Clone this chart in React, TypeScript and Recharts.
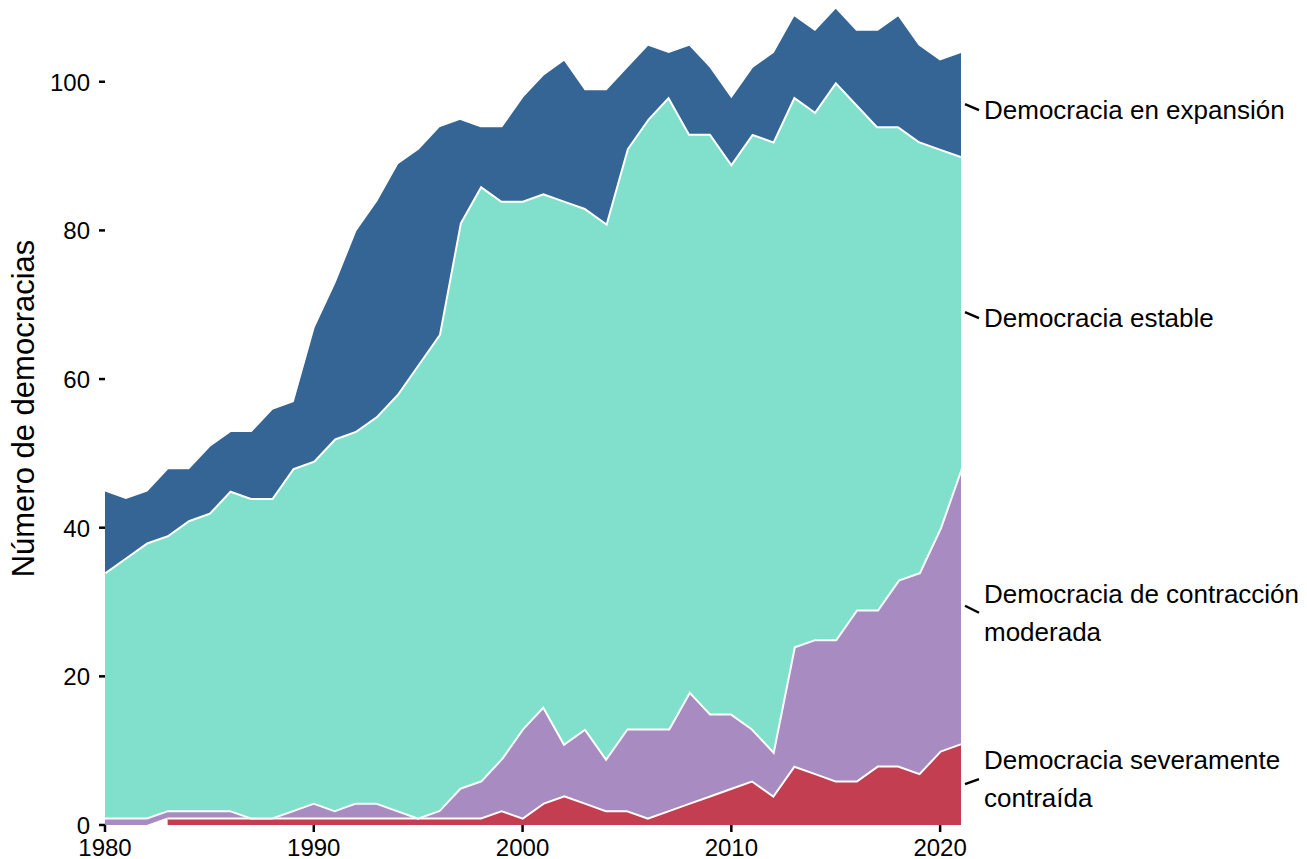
import { AreaChart, Area, XAxis, YAxis, ReferenceDot, Label } from "recharts";

// years 1980-2021
const YEARS = [
  1980, 1981, 1982, 1983, 1984, 1985, 1986, 1987, 1988, 1989,
  1990, 1991, 1992, 1993, 1994, 1995, 1996, 1997, 1998, 1999,
  2000, 2001, 2002, 2003, 2004, 2005, 2006, 2007, 2008, 2009,
  2010, 2011, 2012, 2013, 2014, 2015, 2016, 2017, 2018, 2019,
  2020, 2021,
];

const SEVERE = [
  null, null, null, 1, 1, 1, 1, 1, 1, 1,
  1, 1, 1, 1, 1, 1, 1, 1, 1, 2,
  1, 3, 4, 3, 2, 2, 1, 2, 3, 4,
  5, 6, 4, 8, 7, 6, 6, 8, 8, 7,
  10, 11,
];
const MODERATE = [
  1, 1, 1, 1, 1, 1, 1, 0, 0, 1,
  2, 1, 2, 2, 1, 0, 1, 4, 5, 7,
  12, 13, 7, 10, 7, 11, 12, 11, 15, 11,
  10, 7, 6, 16, 18, 19, 23, 21, 25, 27,
  30, 37,
];
const STABLE = [
  33, 35, 37, 37, 39, 40, 43, 43, 43, 46,
  46, 50, 50, 52, 56, 61, 64, 76, 80, 75,
  71, 69, 73, 70, 72, 78, 82, 85, 75, 78,
  74, 80, 82, 74, 71, 75, 68, 65, 61, 58,
  51, 42,
];
const EXPANDING = [
  11, 8, 7, 9, 7, 9, 8, 9, 12, 9,
  18, 21, 27, 29, 31, 29, 28, 14, 8, 10,
  14, 16, 19, 16, 18, 11, 10, 6, 12, 9,
  9, 9, 12, 11, 11, 10, 10, 13, 15, 13,
  12, 14,
];

const X_TICKS = [1980, 1990, 2000, 2010, 2020];
const Y_TICKS = [0, 20, 40, 60, 80, 100];

const SERIES = [
  { key: "severe", values: SEVERE, color: "#c43e52", line: 4, label: ["Democracia severamente", "contraída"], dy: -5 },
  { key: "moderate", values: MODERATE, color: "#a78bc1", line: 4, label: ["Democracia de contracción", "moderada"], dy: 7 },
  { key: "stable", values: STABLE, color: "#80e0cb", line: 4, label: ["Democracia estable"], dy: 6 },
  { key: "expanding", values: EXPANDING, color: "#346594", line: 2, label: ["Democracia en expansión"], dy: 6 },
];

const data = YEARS.map((year, i) => {
  const row: Record<string, number | null> = { year };
  SERIES.forEach((s) => { row[s.key] = s.values[i]; });
  return row;
});

// mid point of each band in the last year, for the end labels
const last = YEARS.length - 1;
let acc = 0;
const ends = SERIES.map((s) => {
  const v = s.values[last] ?? 0;
  const mid = acc + v / 2;
  acc += v;
  return { ...s, mid };
});

const FONT = "'Liberation Sans', Arial, sans-serif";

function XTick({ x, y, payload }: any) {
  return (
    <g>
      <line x1={x} x2={x} y1={y} y2={y + 7} stroke="#000" strokeWidth={2.5} />
      <text x={x} y={y + 31} textAnchor="middle" fontSize={24} fontFamily={FONT} fill="#000">{payload.value}</text>
    </g>
  );
}

function YTick({ x, y, payload }: any) {
  return (
    <g>
      <line x1={x - 6} x2={x} y1={y} y2={y} stroke="#000" strokeWidth={2.5} />
      <text x={x - 15} y={y + 9} textAnchor="end" fontSize={24} fontFamily={FONT} fill="#000">{payload.value}</text>
    </g>
  );
}

function EndLabel({ cx, cy, lines, dy }: any) {
  const ty = cy + dy;
  const lh = 38;
  const top = ty - ((lines.length - 1) * lh) / 2;
  return (
    <g>
      <line x1={cx + 4} y1={cy} x2={cx + 18} y2={ty} stroke="#000" strokeWidth={2.5} />
      {lines.map((t: string, i: number) => (
        <text key={t} x={cx + 23} y={top + i * lh} dy={9} fontSize={26} fontFamily={FONT} fill="#000">{t}</text>
      ))}
    </g>
  );
}

export default function App() {
  return (
    <div style={{ position: "absolute", left: 0, top: 0, background: "#fff" }}>
      <AreaChart width={1307} height={859} data={data} margin={{ top: 0, right: 346, bottom: 0, left: 0 }}>
        <XAxis
          dataKey="year" type="number" domain={[1980, 2021]} ticks={X_TICKS}
          axisLine={false} tickLine={false} tickSize={0} tickMargin={0} height={34}
          tick={<XTick />} interval={0} allowDataOverflow
        />
        <YAxis
          type="number" domain={[0, 111]} ticks={Y_TICKS}
          axisLine={false} tickLine={false} tickSize={0} tickMargin={0} width={105}
          tick={<YTick />} interval={0} allowDataOverflow
        >
          <Label
            content={({ viewBox }: any) => {
              const cy = viewBox.y + viewBox.height / 2 - 4;
              const cx = viewBox.x + 23;
              return (
                <text x={cx} y={cy} transform={`rotate(-90, ${cx}, ${cy})`} textAnchor="middle"
                  dominantBaseline="central" fontSize={31} fontFamily={FONT} fill="#000">
                  Número de democracias
                </text>
              );
            }}
          />
        </YAxis>
        {SERIES.map((s) => (
          <Area
            key={s.key} dataKey={s.key} stackId="a" type="linear"
            fill={s.color} fillOpacity={1} stroke="#fff" strokeWidth={s.line}
            isAnimationActive={false} dot={false} activeDot={false}
          />
        ))}
        {ends.map((s) => (
          <ReferenceDot
            key={s.key} x={2021} y={s.mid} ifOverflow="visible"
            shape={(p: any) => <EndLabel cx={p.cx} cy={p.cy} lines={s.label} dy={s.dy} />}
          />
        ))}
      </AreaChart>
    </div>
  );
}
